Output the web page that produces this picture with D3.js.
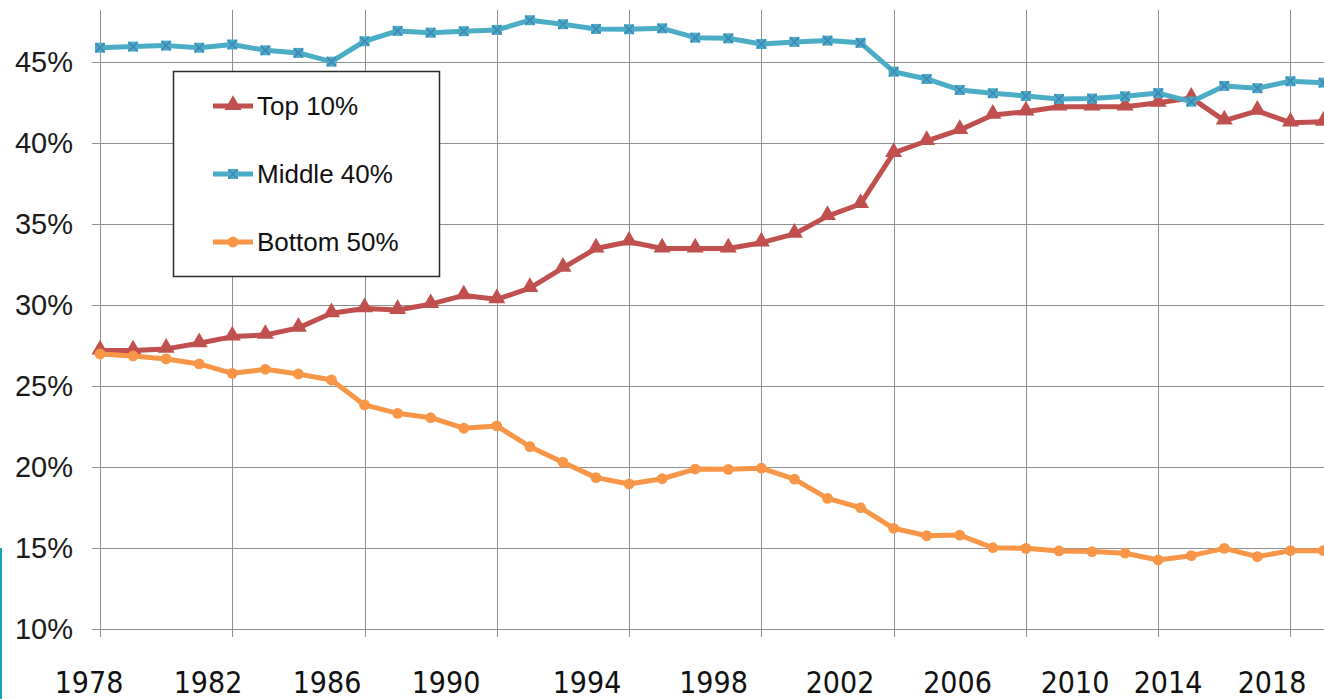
<!DOCTYPE html>
<html><head><meta charset="utf-8">
<script src="https://cdn.jsdelivr.net/npm/d3@7"></script>
<style>body{margin:0;background:#fff;} svg{display:block}</style>
</head><body>
<svg id="c" width="1324" height="699"></svg>
<script>
// ---- data ----
const years = [1978,1979,1980,1981,1982,1983,1984,1985,1986,1987,1988,1989,1990,1991,1992,1993,1994,1995,1996,1997,1998,1999,2000,2001,2002,2003,2004,2005,2006,2007,2008,2009,2010,2011,2012,2013,2014,2015];
const top10 = [27.2,27.2,27.3,27.65,28.06,28.16,28.6,29.5,29.8,29.7,30.06,30.6,30.36,31.05,32.3,33.5,33.92,33.5,33.5,33.5,33.86,34.4,35.5,36.25,39.4,40.14,40.82,41.75,41.95,42.26,42.26,42.26,42.5,42.8,41.4,42.0,41.27,41.33];
const middle40 = [45.9,45.97,46.03,45.9,46.1,45.74,45.58,45.04,46.3,46.94,46.83,46.92,47.0,47.6,47.35,47.06,47.04,47.1,46.52,46.48,46.13,46.26,46.34,46.2,44.42,43.97,43.29,43.09,42.92,42.74,42.76,42.9,43.1,42.57,43.54,43.4,43.83,43.74];
const bottom50 = [26.99,26.86,26.68,26.37,25.79,26.04,25.75,25.38,23.84,23.32,23.05,22.4,22.54,21.26,20.3,19.35,18.96,19.28,19.88,19.86,19.93,19.26,18.07,17.49,16.22,15.76,15.8,15.02,14.98,14.82,14.78,14.68,14.26,14.53,14.98,14.47,14.84,14.84];
const seriesNames = ["Top 10%","Middle 40%","Bottom 50%"];
const seriesColors = ["#c0504d","#4bacc6","#f79646"];
const yTicks = [10,15,20,25,30,35,40,45];
const xGridYears = [1978,1982,1986,1990,1994,1998,2002,2006,2010,2014];
const xTickLabels = ["1978","1982","1986","1990","1994","1998","2002","2006","2010","2014","2018"];
// overlaid label positions (the labels do not sit on the grid in the source)
const labelAnchorYears = [1978,1990,1994,2002,2010,2014,2018];
const labelAnchorPx = [89,446,587,840,1075,1168,1272];

// ---- layout ----
const W = 1324, H = 699;
const plot = {left:100, right:1323.5, top:10, bottom:629};
const svg = d3.select("#c");

const x = d3.scaleLinear().domain([1978, 2015]).range([plot.left, plot.right]);
const y = d3.scaleLinear().domain([10, 48.23]).range([plot.bottom, plot.top]);
const xLab = d3.scaleLinear().domain(labelAnchorYears).range(labelAnchorPx);

// teal slide edge
svg.append("rect").attr("x",0).attr("y",548).attr("width",2).attr("height",H-548).attr("fill","#1aa3b5");

const grid = svg.append("g").attr("stroke","#8f8f8f").attr("stroke-width",1).attr("shape-rendering","crispEdges");
grid.selectAll(".h").data(yTicks).join("line")
  .attr("x1", plot.left - 8).attr("x2", W)
  .attr("y1", d => Math.round(y(d)) + 0.5).attr("y2", d => Math.round(y(d)) + 0.5);
grid.selectAll(".v").data(xGridYears).join("line")
  .attr("x1", d => Math.round(x(d)) + 0.5).attr("x2", d => Math.round(x(d)) + 0.5)
  .attr("y1", plot.top).attr("y2", plot.bottom + 8);

// y axis labels
const yAxis = d3.axisLeft(y).tickValues(yTicks).tickSize(8).tickPadding(19).tickFormat(d => d + "%");
const ya = svg.append("g").attr("transform", `translate(${plot.left},0)`).call(yAxis);
ya.select(".domain").remove();
ya.selectAll(".tick line").remove();
ya.selectAll("text").attr("font-family","'Liberation Sans', Arial, sans-serif").attr("font-size",29).attr("fill","#1a1a1a");

// x labels
svg.append("g").selectAll("text").data(xTickLabels).join("text")
  .attr("x", d => xLab(+d)).attr("y", 693)
  .attr("text-anchor","middle")
  .attr("font-family","'Liberation Sans Narrow','DejaVu Sans Condensed',sans-serif")
  .attr("font-size",30).attr("fill","#111")
  .text(d => d);

// series
const series = [top10, middle40, bottom50].map((vals, i) => ({
  name: seriesNames[i], color: seriesColors[i],
  pts: years.map((yr, j) => ({yr, v: vals[j]}))
}));
const line = d3.line().x(d => x(d.yr)).y(d => y(d.v));

function marker(g, i, color) {
  if (i === 0) {
    g.append("path").attr("d", d3.symbol(d3.symbolTriangle, 125)()).attr("fill", color).attr("transform","translate(0,-1)");
  } else if (i === 1) {
    g.append("rect").attr("x",-5).attr("y",-5).attr("width",10).attr("height",10).attr("fill", color);
    g.append("path").attr("d","M-4.5,-4.5L4.5,4.5M-4.5,4.5L4.5,-4.5").attr("stroke","#3f86b8").attr("stroke-width",1.6);
  } else {
    g.append("circle").attr("r",5.4).attr("fill", color);
  }
}

series.forEach((s, i) => {
  const g = svg.append("g");
  g.append("path").datum(s.pts).attr("d", line).attr("fill","none")
    .attr("stroke", s.color).attr("stroke-width",5).attr("stroke-linejoin","round");
  g.selectAll("g.m").data(s.pts).join("g").attr("class","m")
    .attr("transform", d => `translate(${x(d.yr)},${y(d.v)})`)
    .each(function(){ marker(d3.select(this), i, s.color); });
});

// legend
const lg = svg.append("g");
lg.append("rect").attr("x",173.5).attr("y",71.5).attr("width",266).attr("height",205)
  .attr("fill","#fff").attr("stroke","#2b2b2b").attr("stroke-width",1.5);
const ly = d3.scalePoint().domain(seriesNames).range([106, 242]);
series.forEach((s, i) => {
  const cy = ly(s.name);
  lg.append("line").attr("x1",213).attr("x2",253).attr("y1",cy).attr("y2",cy)
    .attr("stroke", s.color).attr("stroke-width",5);
  const m = lg.append("g").attr("transform", `translate(233,${cy})`);
  marker(m, i, s.color);
  lg.append("text").attr("x",257).attr("y",cy).attr("dy","0.36em")
    .attr("font-family","'Liberation Sans', Arial, sans-serif").attr("font-size",26).attr("fill","#111")
    .text(s.name);
});
</script>
</body></html>
